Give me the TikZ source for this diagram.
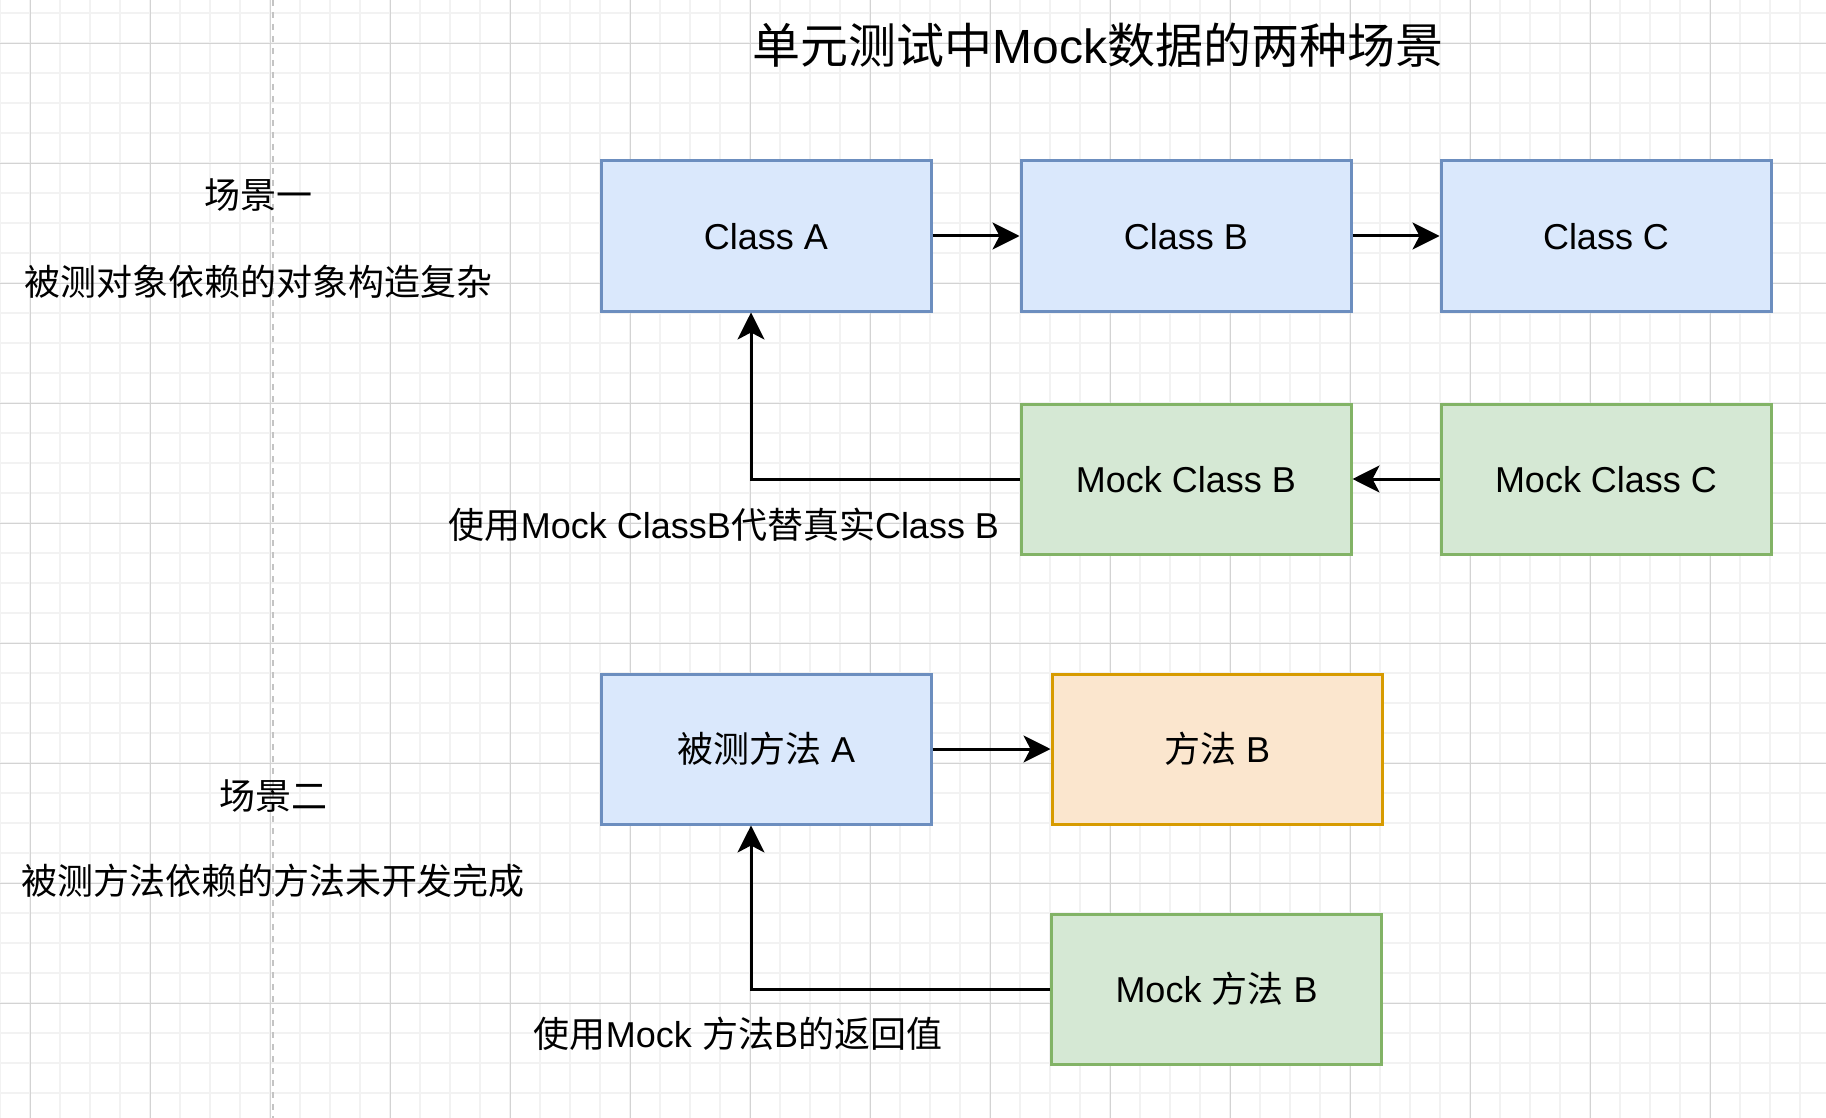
\documentclass[tikz,border=0pt]{standalone}
\usepackage{fontspec}
\setmainfont{Liberation Sans}
\newfontfamily\cjk{Noto Sans CJK SC}
\usetikzlibrary{arrows.meta}
\definecolor{bluefill}{HTML}{DAE8FC}
\definecolor{bluedraw}{HTML}{6C8EBF}
\definecolor{greenfill}{HTML}{D5E8D4}
\definecolor{greendraw}{HTML}{82B366}
\definecolor{orangefill}{HTML}{FBE6CE}
\definecolor{orangedraw}{HTML}{D79B00}
\definecolor{gridminor}{HTML}{F2F2F2}
\definecolor{gridmajor}{HTML}{D3D3D3}
\definecolor{dashgray}{HTML}{C4C4C4}
\tikzset{
  box/.style={rectangle, draw, line width=3pt, minimum width=330pt, minimum height=150pt,
    inner sep=0pt, font=\fontsize{36pt}{40pt}\selectfont, text height=31pt, text depth=5pt},
  bluebox/.style={box, fill=bluefill, draw=bluedraw},
  greenbox/.style={box, fill=greenfill, draw=greendraw},
  orangebox/.style={box, fill=orangefill, draw=orangedraw},
  lbl/.style={inner sep=0pt, font=\fontsize{36pt}{40pt}\selectfont, text height=31pt, text depth=5pt},
  ttl/.style={inner sep=0pt, font=\fontsize{48pt}{54pt}\selectfont, text height=41pt, text depth=7pt},
  arr/.style={line width=3pt, draw=black, -{Stealth[length=27pt,width=27pt,inset=7pt]}},
}
\begin{document}
\begin{tikzpicture}[x=1pt,y=-1pt]
\useasboundingbox (0,0) rectangle (1826,1118);
\fill[white] (0,0) rectangle (1826,1118);
% minor grid
\foreach \i in {0,...,61} {
  \draw[gridminor, line width=2pt] (0.3+30*\i,0) -- (0.3+30*\i,1118);
}
\foreach \j in {0,...,37} {
  \draw[gridminor, line width=2pt] (0,13.3+30*\j) -- (1826,13.3+30*\j);
}
% major grid
\foreach \i in {0,...,15} {
  \draw[gridmajor, line width=1pt] (30.3+120*\i,0) -- (30.3+120*\i,1118);
}
\foreach \j in {0,...,9} {
  \draw[gridmajor, line width=1pt] (0,43.3+120*\j) -- (1826,43.3+120*\j);
}
% dashed separator
\draw[dashgray, line width=2pt, dash pattern=on 6pt off 6pt] (272.5,0) -- (272.5,1118);

% title
\node[ttl] (title) at (1098,47) {{\cjk 单元测试中}Mock{\cjk 数据的两种场景}};

% scenario 1
\node[lbl] (s1) at (258.5,196) {\cjk 场景一};
\node[lbl] (s1d) at (258,282) {\cjk 被测对象依赖的对象构造复杂};
\node[bluebox] (ca) at (766,236) {Class A};
\node[bluebox] (cb) at (1186,236) {Class B};
\node[bluebox] (cc) at (1606,236) {Class C};
\node[greenbox] (mcb) at (1186,479) {Mock Class B};
\node[greenbox] (mcc) at (1606,479) {Mock Class C};
\node[lbl] (l1) at (724,525) {{\cjk 使用}Mock ClassB{\cjk 代替真实}Class B};

\draw[arr] (ca.east) -- (cb.west);
\draw[arr] (cb.east) -- (cc.west);
\draw[arr] (mcc.west) -- (mcb.east);
\draw[arr] (mcb.west) -| ([xshift=-15pt]ca.south);

% scenario 2
\node[lbl] (s2) at (273.5,796.5) {\cjk 场景二};
\node[lbl] (s2d) at (273,881.5) {\cjk 被测方法依赖的方法未开发完成};
\node[bluebox] (ma) at (766,749) {{\cjk 被测方法} A};
\node[orangebox] (mb) at (1217,749) {{\cjk 方法} B};
\node[greenbox] (mmb) at (1216.5,989) {Mock {\cjk 方法} B};
\node[lbl] (l2) at (738,1034) {{\cjk 使用}Mock {\cjk 方法}B{\cjk 的返回值}};

\draw[arr] (ma.east) -- (mb.west);
\draw[arr] (mmb.west) -| ([xshift=-15pt]ma.south);
\end{tikzpicture}
\end{document}
